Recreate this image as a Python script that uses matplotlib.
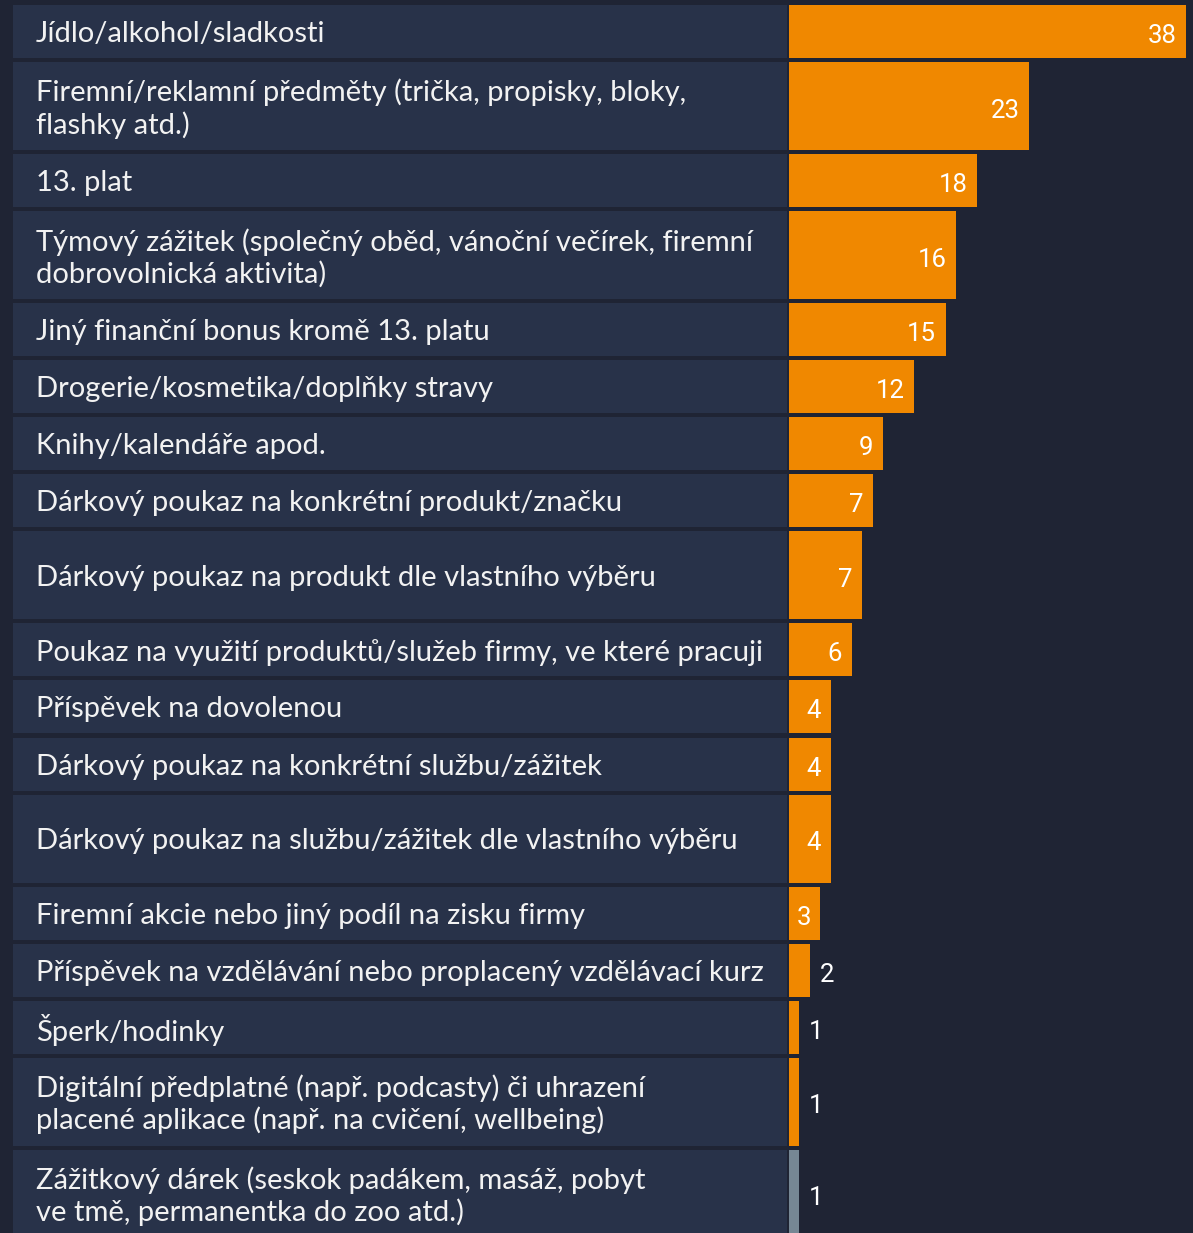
import matplotlib
matplotlib.use("Agg")
import matplotlib.pyplot as plt

categories = [
    "Jídlo/alkohol/sladkosti",
    "Firemní/reklamní předměty (trička, propisky, bloky,\nflashky atd.)",
    "13. plat",
    "Týmový zážitek (společný oběd, vánoční večírek, firemní\ndobrovolnická aktivita)",
    "Jiný finanční bonus kromě 13. platu",
    "Drogerie/kosmetika/doplňky stravy",
    "Knihy/kalendáře apod.",
    "Dárkový poukaz na konkrétní produkt/značku",
    "Dárkový poukaz na produkt dle vlastního výběru",
    "Poukaz na využití produktů/služeb firmy, ve které pracuji",
    "Příspěvek na dovolenou",
    "Dárkový poukaz na konkrétní službu/zážitek",
    "Dárkový poukaz na službu/zážitek dle vlastního výběru",
    "Firemní akcie nebo jiný podíl na zisku firmy",
    "Příspěvek na vzdělávání nebo proplacený vzdělávací kurz",
    "Šperk/hodinky",
    "Digitální předplatné (např. podcasty) či uhrazení\nplacené aplikace (např. na cvičení, wellbeing)",
    "Zážitkový dárek (seskok padákem, masáž, pobyt\nve tmě, permanentka do zoo atd.)",
]
values = [38, 23, 18, 16, 15, 12, 9, 8, 7, 6, 4, 4, 4, 3, 2, 1, 1, 1]
value_labels = ["38", "23", "18", "16", "15", "12", "9", "7", "7", "6",
                "4", "4", "4", "3", "2", "1", "1", "1"]
tall_rows = [False, True, False, True, False, False, False, False, True, False,
             False, False, True, False, False, False, True, True]

BG = "#1f2434"
BOX = "#283249"
ORANGE = "#f08800"
GRAY = "#768794"
TXT = "#f2f2f2"

W, H = 1193, 1233
fig = plt.figure(figsize=(W / 100, H / 100), dpi=100, facecolor=BG)

# row geometry (pixel units from top)
short_h, tall_h, gap, top0 = 53, 88, 4.05, 5
centers, heights = [], []
y = top0
for t in tall_rows:
    h = tall_h if t else short_h
    centers.append(y + h / 2)
    heights.append(h)
    y += h + gap

# left axes: label boxes
box_l, box_r = 13, 787
axl = fig.add_axes([box_l / W, 0, (box_r - box_l) / W, 1])
axl.set_xlim(0, box_r - box_l)
axl.set_ylim(H, 0)
axl.axis("off")
axl.barh(centers, [box_r - box_l] * len(centers), height=heights, left=0,
         color=BOX, edgecolor="none")
for c, lab in zip(centers, categories):
    axl.text(23, c + 2.5, lab, ha="left", va="center", color=TXT,
             fontsize=21, family="Lato", linespacing=1.22)

# right axes: bars
bar_l = 789
scale = 10.45
axr = fig.add_axes([bar_l / W, 0, (W - bar_l) / W, 1])
axr.set_xlim(0, (W - bar_l) / scale)
axr.set_ylim(H, 0)
axr.axis("off")
colors = [ORANGE] * (len(values) - 1) + [GRAY]
axr.barh(centers, values, height=heights, color=colors, edgecolor="none")
pad = 9.5 / scale
for c, v, lab in zip(centers, values, value_labels):
    if v >= 3:
        axr.text(v - pad, c + 4.5, lab, ha="right", va="center", color="white",
                 fontsize=18.5, family="Roboto")
    else:
        axr.text(v + pad, c + 4.5, lab, ha="left", va="center", color="white",
                 fontsize=18.5, family="Roboto")

fig.savefig("out.png", dpi=100, facecolor=BG)
